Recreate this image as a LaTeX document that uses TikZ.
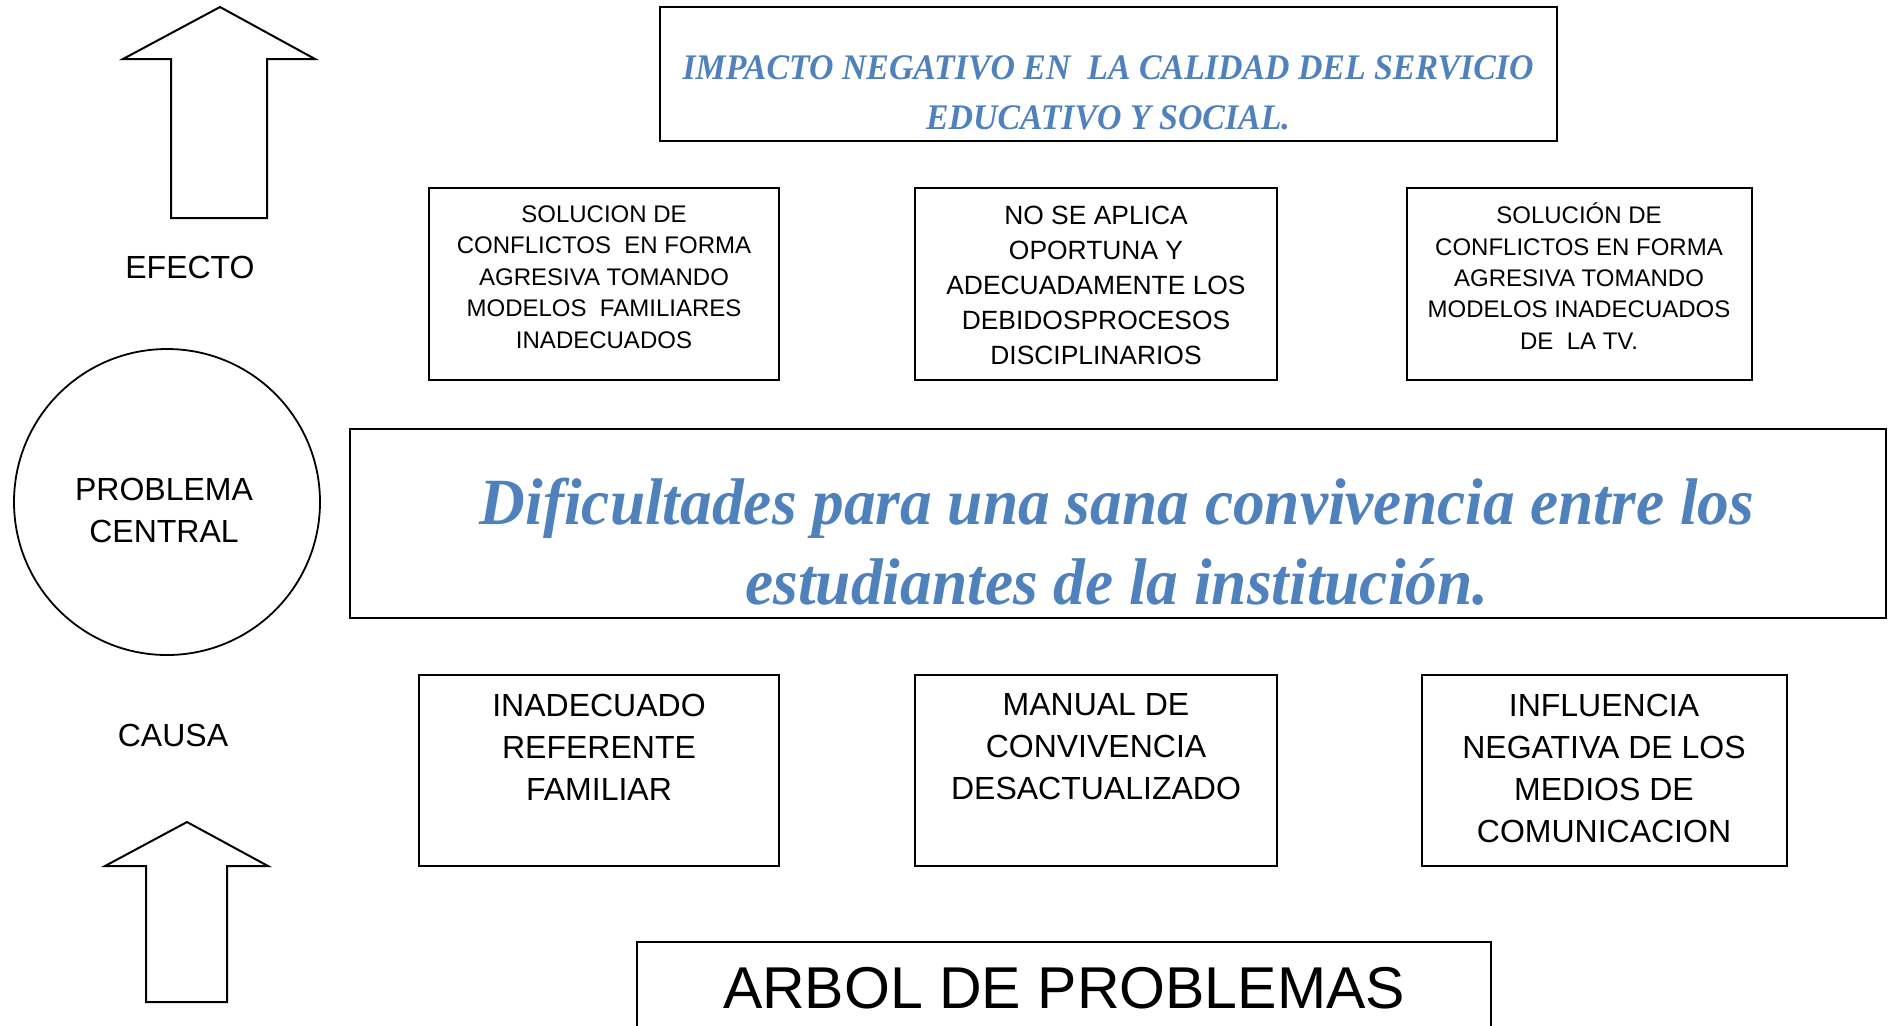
\documentclass[tikz,border=0pt]{standalone}
\usepackage{fontspec}
\setmainfont{Liberation Sans}
\newfontfamily\bluefontA[FakeStretch=0.94]{Liberation Serif}
\newfontfamily\bluefontB[FakeStretch=0.96]{Liberation Serif}
\usetikzlibrary{positioning}
\definecolor{accblue}{RGB}{79,129,189}
\tikzset{
  frame/.style={draw=black, line width=0.9pt},
  boxtext/.style={align=center, font=\fontsize{12}{15.7}\selectfont},
  causetext/.style={align=center, font=\fontsize{16}{21}\selectfont},
  sidetext/.style={align=center, font=\fontsize{16}{21}\selectfont},
  bigarrow/.style={draw=black, line width=1pt, line join=miter},
}
\begin{document}
\begin{tikzpicture}[x=0.5pt, y=-0.5pt]
\useasboundingbox (0,0) rectangle (1893,1025);
% top effect box
\draw[frame] (660,7) rectangle (1557,141);
\node[align=center, text=accblue, font=\bluefontA\bfseries\itshape\fontsize{18}{25}\selectfont] (impacto) at (1108,93) {IMPACTO NEGATIVO EN\ \ LA CALIDAD DEL SERVICIO\\EDUCATIVO Y SOCIAL.};
% left arrows
\draw[bigarrow] (220,7) -- (315,59) -- (267,59) -- (267,218) -- (171,218) -- (171,59) -- (123,59) -- cycle;
\node[sidetext] (efecto) at (190,267) {EFECTO};
\node[draw, circle, line width=0.9pt, minimum size=153pt, inner sep=0pt] (circ) at (167,502) {};
\node[sidetext] (pc) at (164,510) {PROBLEMA\\CENTRAL};
\node[sidetext] (causa) at (173,735) {CAUSA};
\draw[bigarrow] (187,822) -- (268,866) -- (227,866) -- (227,1002) -- (146,1002) -- (146,866) -- (105,866) -- cycle;
% effect boxes
\draw[frame] (429,188) rectangle (779,380);
\node[boxtext] (e1) at (604,277) {SOLUCION DE\\CONFLICTOS\ \ EN FORMA\\AGRESIVA TOMANDO\\MODELOS\ \ FAMILIARES\\INADECUADOS};
\draw[frame] (915,188) rectangle (1277,380);
\node[align=center, font=\fontsize{13.2}{17.5}\selectfont] (e2) at (1096,285) {NO SE APLICA\\OPORTUNA Y\\ADECUADAMENTE LOS\\DEBIDOSPROCESOS\\DISCIPLINARIOS};
\draw[frame] (1407,188) rectangle (1752,380);
\node[boxtext] (e3) at (1579,276) {SOLUCIÓN DE\\CONFLICTOS EN FORMA\\AGRESIVA TOMANDO\\MODELOS INADECUADOS\\DE\ \ LA TV.};
% central problem
\draw[frame] (350,429) rectangle (1886,618);
\node[align=center, text=accblue, font=\bluefontB\bfseries\itshape\fontsize{33}{40}\selectfont] (central) at (1117,542) {Dificultades para una sana convivencia entre los\\estudiantes de la institución.};
% cause boxes
\draw[frame] (419,675) rectangle (779,866);
\node[causetext] (c1) at (599,747) {INADECUADO\\REFERENTE\\FAMILIAR};
\draw[frame] (915,675) rectangle (1277,866);
\node[causetext] (c2) at (1096,747) {MANUAL DE\\CONVIVENCIA\\DESACTUALIZADO};
\draw[frame] (1422,675) rectangle (1787,866);
\node[causetext] (c3) at (1604,768) {INFLUENCIA\\NEGATIVA DE LOS\\MEDIOS DE\\COMUNICACION};
% title
\draw[frame] (637,1030) -- (637,942) -- (1491,942) -- (1491,1030);
\node[font=\fontsize{29.5}{36}\selectfont] (title) at (1064,988) {ARBOL DE PROBLEMAS};
\end{tikzpicture}
\end{document}
